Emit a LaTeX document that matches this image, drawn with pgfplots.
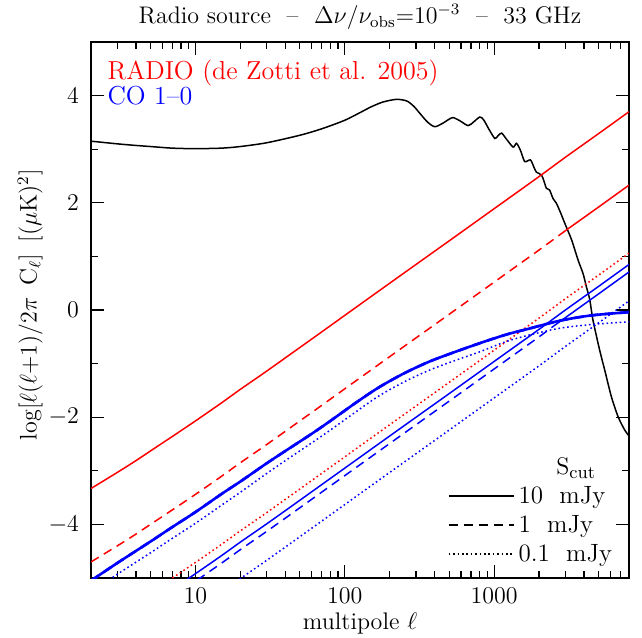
\documentclass[border=0pt]{standalone}
\usepackage{pgfplots}
\pgfplotsset{compat=1.18}
\tikzset{
  dsh/.style={dash pattern=on 4.5pt off 3pt},
  dtt/.style={dash pattern=on 0.8pt off 1.4pt},
}
\newcommand{\fs}{\fontsize{12}{14.5}\selectfont}
\newcommand{\fl}{\fontsize{13}{15.5}\selectfont}
\begin{document}
\begin{tikzpicture}
\begin{axis}[
  name=ax, scale only axis, width=269pt, height=268pt,
  xmode=log, xmin=2, xmax=8000, ymin=-5, ymax=5,
  xtick={10,100,1000}, xticklabels={10,100,1000},
  minor xtick={2,3,4,5,6,7,8,9,20,30,40,50,60,70,80,90,200,300,400,500,600,700,800,900,2000,3000,4000,5000,6000,7000,8000},
  ytick={-4,-2,0,2,4}, minor ytick={-5,-3,-1,1,3,5},
  tick align=inside, major tick length=6.5pt, minor tick length=3.5pt,
  every tick/.style={black, line width=0.6pt},
  axis line style={line width=0.8pt},
  ticklabel style={font=\fs},
  xticklabel style={yshift=-1pt},
  yticklabel style={xshift=-2.5pt},
  xlabel={multipole $\ell$},
  ylabel={$\log[\ell(\ell{+}1)/2\pi\ \,\mathrm{C}_\ell]\ \,[(\mu\mathrm{K})^2]$},
  label style={font=\fs},
  xlabel style={at={(axis description cs:0.5,-0.085)}, anchor=center},
  ylabel style={at={(axis description cs:-0.113,0.51)}, anchor=center},
  legend style={draw=none, fill=none, font=\fontsize{12.5}{15}\selectfont, at={(axis description cs:0.663,0.18)}, anchor=north west, row sep=0.5pt, inner sep=0pt},
  legend cell align=left,
  legend image code/.code={\draw[#1] (0pt,0pt) -- (30pt,0pt); \path (0pt,0pt) -- (32.5pt,0pt);},
]
% CMB
\addplot[black, line width=0.75pt, smooth, tension=0.45, forget plot] coordinates {
(2,3.15)(3,3.10)(4,3.07)(5,3.05)(7,3.02)(10,3.01)(15,3.02)(20,3.05)(30,3.12)(50,3.26)(70,3.38)(100,3.54)(130,3.70)(150,3.79)(180,3.88)(222,3.93)(260,3.90)(290,3.80)(318,3.67)(360,3.50)(401,3.42)(450,3.48)(500,3.56)(532,3.59)(590,3.53)(670,3.44)(730,3.51)(802,3.60)(850,3.55)(920,3.38)(1011,3.20)(1060,3.25)(1122,3.30)(1200,3.20)(1340,3.04)(1412,3.11)(1500,2.98)(1603,2.77)(1750,2.80)(1850,2.66)(1922,2.57)(2075,2.52)(2160,2.40)(2240,2.27)(2350,2.24)(2480,2.08)(2613,1.99)(2800,1.80)(2970,1.62)(3300,1.31)(3650,0.93)(3940,0.68)(4150,0.43)(4370,0.19)(4590,-0.19)(5090,-0.75)(5500,-1.12)(6100,-1.62)(6760,-1.99)(7490,-2.24)(8000,-2.35)};
% RADIO 10 mJy
\addplot[red, line width=0.75pt, smooth, forget plot] coordinates {
(2,-3.33)(3,-3.03)(4,-2.81)(5,-2.63)(7,-2.36)(10,-2.07)(15,-1.73)(20,-1.48)(30,-1.14)(50,-0.70)(70,-0.41)(100,-0.10)(200,0.50)(300,0.85)(500,1.29)(1000,1.89)(2000,2.49)(3000,2.85)(5000,3.29)(8000,3.70)};
% RADIO 1 mJy
\addplot[red, line width=0.75pt, dsh, smooth, forget plot] coordinates {
(2,-4.70)(3,-4.40)(4,-4.18)(5,-4.00)(7,-3.73)(10,-3.44)(15,-3.10)(20,-2.85)(30,-2.51)(50,-2.07)(70,-1.78)(100,-1.47)(200,-0.87)(300,-0.52)(500,-0.08)(1000,0.52)(2000,1.12)(3000,1.48)};
\addplot[red, line width=0.75pt, forget plot] coordinates {
(3000,1.48)(5000,1.92)(8000,2.33)};
% RADIO 0.1 mJy
\addplot[red, line width=0.75pt, dtt, smooth, forget plot] coordinates {
(5,-5.27)(7,-5.00)(10,-4.71)(15,-4.37)(20,-4.12)(30,-3.78)(50,-3.34)(100,-2.74)(200,-2.14)(500,-1.35)(1000,-0.75)(2000,-0.15)(3000,0.21)(5000,0.65)(8000,1.06)};
% CO Poisson 10 mJy
\addplot[blue, line width=0.75pt, smooth, forget plot] coordinates {
(7,-5.21)(10,-4.92)(15,-4.58)(20,-4.33)(30,-3.99)(50,-3.55)(100,-2.95)(200,-2.35)(500,-1.56)(1000,-0.96)(2000,-0.36)(3000,0.00)(5000,0.44)(8000,0.85)};
% CO Poisson 1 mJy
\addplot[blue, line width=0.75pt, dsh, smooth, forget plot] coordinates {
(7,-5.35)(10,-5.06)(15,-4.72)(20,-4.47)(30,-4.13)(50,-3.69)(100,-3.09)(200,-2.49)(500,-1.70)(1000,-1.10)(2000,-0.50)(2500,-0.30)};
\addplot[blue, line width=0.75pt, forget plot] coordinates {
(2500,-0.30)(5000,0.30)(8000,0.71)};
% CO Poisson 0.1 mJy
\addplot[blue, line width=0.75pt, dtt, smooth, forget plot] coordinates {
(15,-5.26)(20,-5.01)(30,-4.67)(50,-4.23)(100,-3.63)(200,-3.03)(500,-2.24)(1000,-1.64)(2000,-1.04)(3000,-0.68)(5000,-0.24)(8000,0.17)};
% CO clustering 10 mJy and 1 mJy
\addplot[blue, line width=1.3pt, smooth, forget plot] coordinates {
(2,-5.05)(3,-4.72)(5,-4.32)(7,-4.05)(10,-3.77)(15,-3.43)(20,-3.20)(30,-2.86)(40,-2.63)(60,-2.31)(80,-2.07)(120,-1.72)(170,-1.44)(250,-1.18)(370,-0.96)(550,-0.78)(800,-0.62)(1200,-0.46)(1700,-0.35)(2750,-0.20)(4500,-0.10)(8000,-0.04)};
\addplot[blue, line width=1.3pt, dsh, smooth, forget plot] coordinates {
(2,-5.05)(3,-4.72)(5,-4.32)(7,-4.05)(10,-3.77)(15,-3.43)(20,-3.20)(30,-2.86)(40,-2.63)(60,-2.31)(80,-2.07)(120,-1.72)(170,-1.44)(250,-1.18)(370,-0.96)(550,-0.78)(800,-0.62)(1200,-0.46)(1700,-0.35)(2750,-0.20)(4500,-0.10)(8000,-0.04)};
% CO clustering 0.1 mJy
\addplot[blue, line width=0.75pt, dtt, smooth, forget plot] coordinates {
(2,-5.27)(3,-4.93)(5,-4.53)(7,-4.26)(10,-3.98)(15,-3.64)(20,-3.40)(30,-3.05)(40,-2.81)(60,-2.48)(80,-2.24)(120,-1.89)(170,-1.60)(250,-1.34)(370,-1.12)(550,-0.94)(800,-0.78)(1200,-0.59)(1700,-0.47)(2750,-0.34)(4500,-0.27)(8000,-0.22)};
% legend
\addlegendimage{black, line width=0.75pt}
\addlegendentry{10~~mJy}
\addlegendimage{black, line width=0.75pt, dsh}
\addlegendentry{1~~mJy}
\addlegendimage{black, line width=0.75pt, dtt}
\addlegendentry{0.1~~mJy}
\node[font=\fl, anchor=center] at (axis description cs:0.902,0.205) {$\mathrm{S}_{\mathrm{cut}}$};
\node[font=\fl, red, anchor=north west, inner sep=0pt] at (axis description cs:0.03,0.968) {RADIO (de Zotti et al. 2005)};
\node[font=\fl, blue, anchor=north west, inner sep=0pt] at (axis description cs:0.03,0.918) {CO 1--0};
\end{axis}
\node[font=\fs, anchor=center] at ([yshift=12.5pt]ax.north) {Radio source~ -- ~$\Delta\nu/\nu_{\mathrm{obs}}$=10$^{-3}$~ -- ~33 GHz};
\pgfresetboundingbox
\path ([shift={(-45.5pt,-29.5pt)}]ax.south west) rectangle ([shift={(6.5pt,21pt)}]ax.north east);
\end{tikzpicture}
\end{document}
